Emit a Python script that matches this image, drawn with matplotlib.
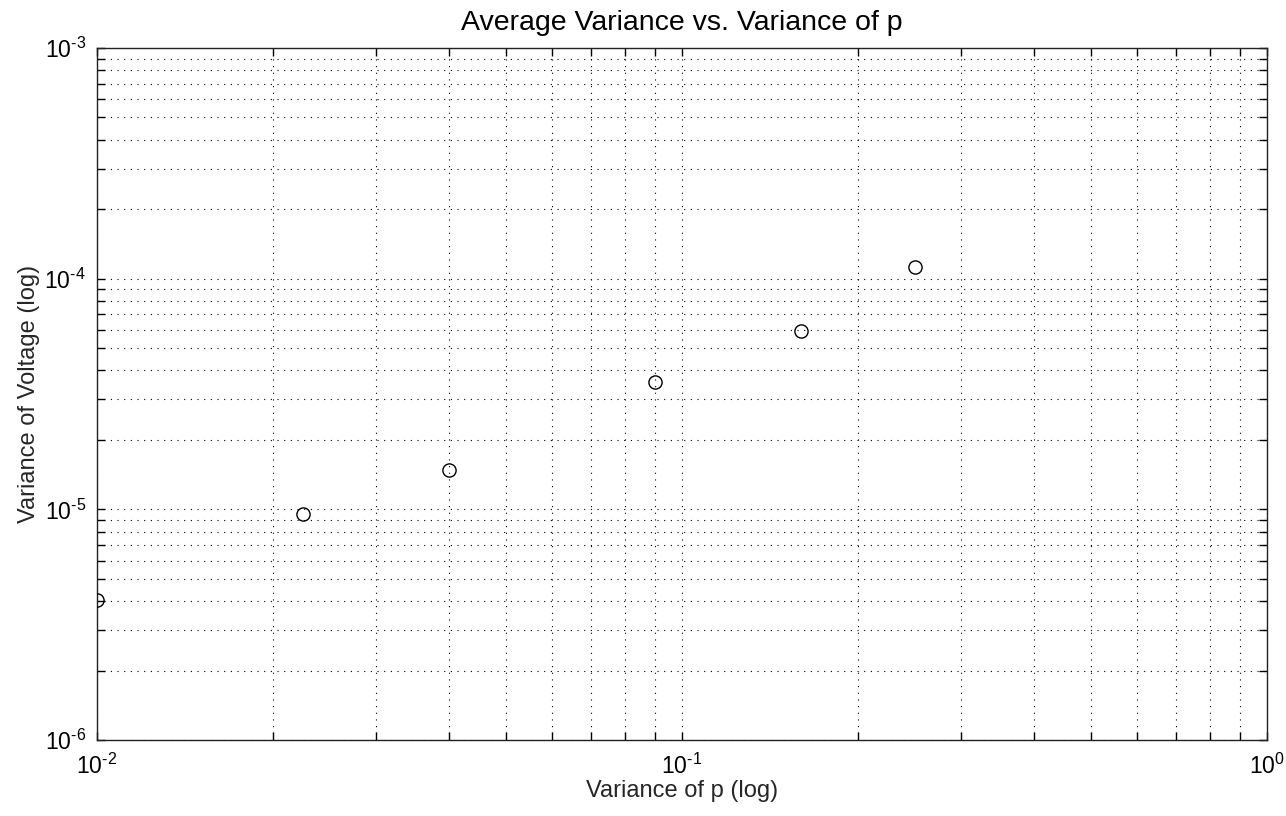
import matplotlib
matplotlib.use("Agg")
import matplotlib.pyplot as plt
from matplotlib.ticker import LogLocator, NullFormatter, FuncFormatter
import math

plt.rcParams['font.family'] = ['Liberation Sans', 'DejaVu Sans']
plt.rcParams['mathtext.fontset'] = 'custom'
plt.rcParams['mathtext.rm'] = 'Liberation Sans'
plt.rcParams['mathtext.default'] = 'regular'

# Variance of p and resulting average voltage variance
var_p = [0.01, 0.0225, 0.04, 0.09, 0.16, 0.25]
var_v = [4.05e-6, 9.5e-6, 1.48e-5, 3.55e-5, 5.95e-5, 1.12e-4]

fig = plt.figure(figsize=(12.86, 8.16), dpi=100)
ax = fig.add_axes([97/1286, 76/816, 1170/1286, 692/816])

ax.loglog(var_p, var_v, linestyle='none', marker='o', markersize=9.5,
          markerfacecolor='none', markeredgecolor='black', markeredgewidth=1.0,
          zorder=3)

ax.set_xlim(1e-2, 1e0)
ax.set_ylim(1e-6, 1e-3)


def pow10(val, pos):
    e = int(round(math.log10(val)))
    sign = r'\text{-}' if e < 0 else ''
    return r'$10^{%s%d}$' % (sign, abs(e))


for axis in (ax.xaxis, ax.yaxis):
    axis.set_major_locator(LogLocator(base=10, numticks=10))
    axis.set_minor_locator(LogLocator(base=10, subs=range(2, 10), numticks=20))
    axis.set_major_formatter(FuncFormatter(pow10))
    axis.set_minor_formatter(NullFormatter())

grid_style = dict(color='black', linestyle=(0, (1, 5)), linewidth=0.8)
ax.grid(True, which='major', **grid_style)
ax.grid(True, which='minor', **grid_style)
ax.set_axisbelow(True)

ax.tick_params(which='both', direction='in', top=True, right=True,
               labelsize=16.5, colors='black', length=5.5, width=1.0)
ax.tick_params(axis='x', pad=10)
ax.tick_params(axis='y', pad=8)

for s in ax.spines.values():
    s.set_linewidth(1.0)
    s.set_color('#222222')

ax.set_title('Average Variance vs. Variance of p', fontsize=20.5, pad=13)
ax.set_xlabel('Variance of p (log)', fontsize=17, color='#262626', labelpad=1)
ax.set_ylabel('Variance of Voltage (log)', fontsize=17, color='#262626', labelpad=3)

fig.savefig('out.png', dpi=100)
